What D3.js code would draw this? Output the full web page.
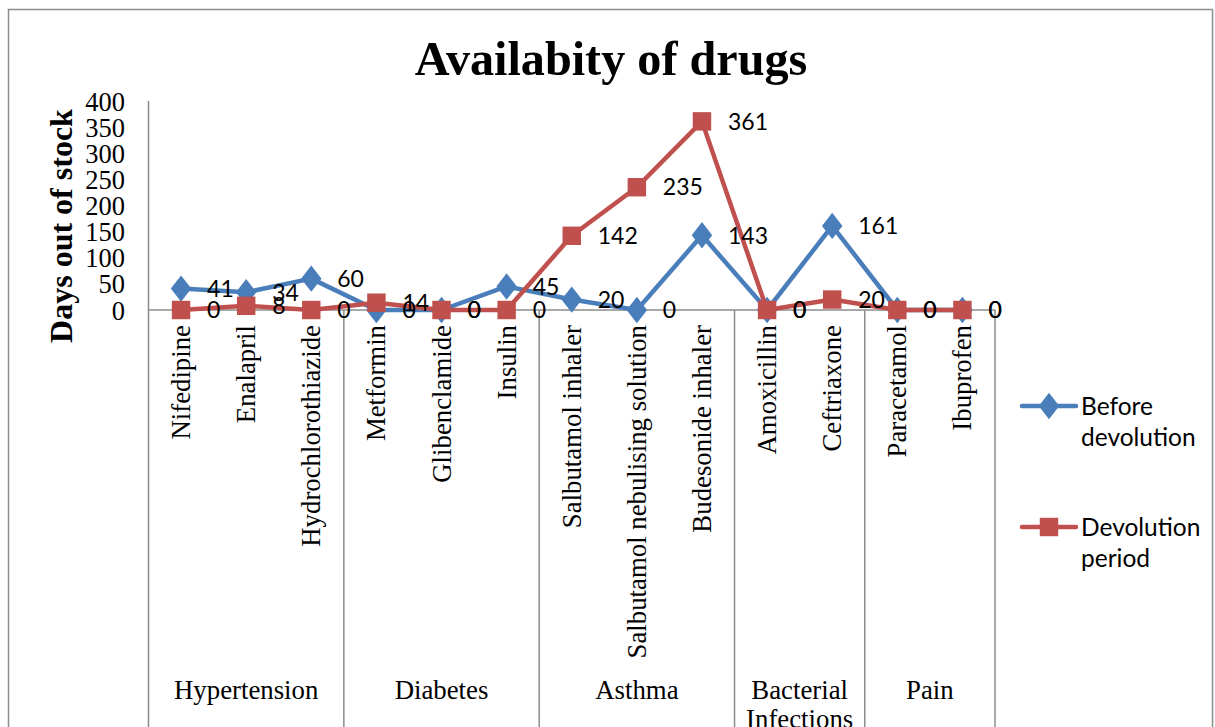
<!DOCTYPE html>
<html><head><meta charset="utf-8">
<script src="https://cdn.jsdelivr.net/npm/d3@7"></script>
<style>body{margin:0;background:#fff}svg{display:block}</style>
</head><body>
<svg id="c" width="1215" height="727"></svg>
<script>
const drugs = ["Nifedipine","Enalapril","Hydrochlorothiazide","Metformin","Glibenclamide","Insulin","Salbutamol inhaler","Salbutamol nebulising solution","Budesonide inhaler","Amoxicillin","Ceftriaxone","Paracetamol","Ibuprofen"];
const groups = [["Hypertension"],["Diabetes"],["Asthma"],["Bacterial","Infections"],["Pain"]];
const groupSizes = [3,3,3,2,2];
const before = [41,34,60,0,0,45,20,0,143,0,161,0,0];
const devolution = [0,8,0,14,0,0,142,235,361,0,20,0,0];
const yTicks = [0,50,100,150,200,250,300,350,400];
const seriesNames = [["Before","devolution"],["Devolution","period"]];

const svg = d3.select("#c");
const serif = "'Liberation Serif','Times New Roman',serif";
const sans = "Lato,'Noto Sans',sans-serif";
const grey = "#8c8c8c";
const blue = "#4a7ebb", red = "#c0504d";

// outer frame
svg.append("rect").attr("x",8.5).attr("y",9.5).attr("width",1204).attr("height",740)
  .attr("fill","none").attr("stroke",grey).attr("stroke-width",1.5);

const x0 = 148.5, x1 = 995, yTop = 101, yBase = 310;
const x = d3.scaleBand().domain(drugs).range([x0,x1]);
const y = d3.scaleLinear().domain([0,400]).range([yBase,yTop]);
const cx = d => x(d)+x.bandwidth()/2;

// title
svg.append("text").attr("x",611).attr("y",75).attr("text-anchor","middle")
  .attr("font-family",serif).attr("font-weight","bold").attr("font-size",48.2)
  .text("Availabity of drugs");

// y axis title
svg.append("text").attr("transform","translate(72,226) rotate(-90)").attr("text-anchor","middle")
  .attr("font-family",serif).attr("font-weight","bold").attr("font-size",32)
  .text("Days out of stock");

// y axis
const yAxis = svg.append("g").attr("transform",`translate(${x0},0)`)
  .call(d3.axisLeft(y).tickValues(yTicks).tickSize(0).tickPadding(23.5));
yAxis.select(".domain").remove();
yAxis.selectAll("text").attr("font-family",serif).attr("font-size",26.5).attr("fill","#000").attr("dy","0.34em");
svg.append("line").attr("x1",x0).attr("x2",x0).attr("y1",yTop).attr("y2",740).attr("stroke",grey).attr("stroke-width",1.5);

// x axis baseline
svg.append("line").attr("x1",x0).attr("x2",x1).attr("y1",y(0)).attr("y2",y(0)).attr("stroke",grey).attr("stroke-width",1.5);

// group dividers and group labels
let acc = 0;
const bounds = [];
groupSizes.forEach(n=>{ const s = acc; acc += n; bounds.push([s,acc]); });
bounds.forEach(([s,e],i)=>{
  const xe = x(drugs[e-1]) + x.bandwidth();
  svg.append("line").attr("x1",xe).attr("x2",xe).attr("y1",y(0)).attr("y2",740).attr("stroke",grey).attr("stroke-width",1.5);
  const xs = x(drugs[s]);
  const t = svg.append("text").attr("x",(xs+xe)/2).attr("y",699).attr("text-anchor","middle")
    .attr("font-family",serif).attr("font-size",26.8);
  groups[i].forEach((l,j)=>t.append("tspan").attr("x",(xs+xe)/2).attr("dy",j?29:0).text(l));
});

// category labels
svg.append("g").selectAll("text").data(drugs).join("text")
  .attr("transform",d=>`translate(${cx(d)+9},325) rotate(-90)`)
  .attr("text-anchor","end").attr("font-family",serif).attr("font-size",26.8)
  .text(d=>d);

// lines and markers
const line = d3.line().x((d,i)=>cx(drugs[i])).y(d=>y(d));
function series(vals,color,shape){
  svg.append("path").datum(vals).attr("d",line).attr("fill","none")
    .attr("stroke",color).attr("stroke-width",4.5).attr("stroke-linejoin","round");
  svg.append("g").selectAll("path").data(vals).join("path")
    .attr("d",d3.symbol().type(shape).size(shape===d3.symbolSquare?340:200))
    .attr("fill",color).attr("transform",(d,i)=>`translate(${cx(drugs[i])},${y(d)})`+(shape===d3.symbolDiamond?" scale(1.35,1)":""));
}
series(before,blue,d3.symbolDiamond);
series(devolution,red,d3.symbolSquare);

// data labels
function labels(vals){
  svg.append("g").selectAll("text").data(vals).join("text")
    .attr("x",(d,i)=>cx(drugs[i])+26).attr("y",d=>y(d)).attr("dy","0.36em")
    .attr("font-family",sans).attr("font-size",23).text(d=>d);
}
labels(before);
labels(devolution);

// legend
const leg = [[blue,d3.symbolDiamond,406],[red,d3.symbolSquare,527]];
leg.forEach(([c,sh,ly],i)=>{
  svg.append("line").attr("x1",1022).attr("x2",1076).attr("y1",ly).attr("y2",ly)
    .attr("stroke",c).attr("stroke-width",4.5).attr("stroke-linecap","round");
  svg.append("path").attr("d",d3.symbol().type(sh).size(sh===d3.symbolSquare?340:200)())
    .attr("fill",c).attr("transform",`translate(1049,${ly})`+(sh===d3.symbolDiamond?" scale(1.35,1)":""));
  const t = svg.append("text").attr("font-family",sans).attr("font-size",24.5);
  seriesNames[i].forEach((s,j)=>t.append("tspan").attr("x",1081).attr("y",ly+31*j).attr("dy","0.36em").text(s));
});
</script>
</body></html>
